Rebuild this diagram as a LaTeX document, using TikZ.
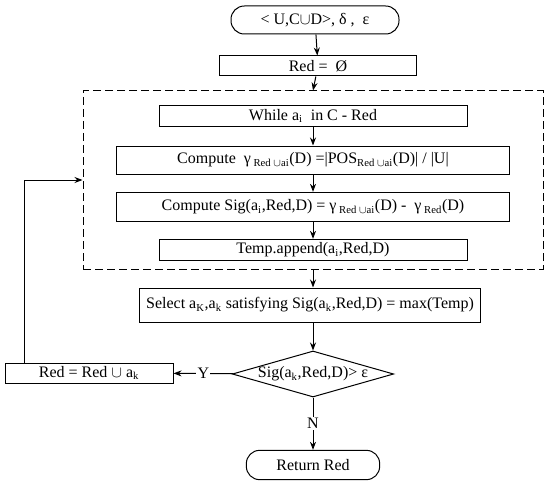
\documentclass[tikz,border=0pt]{standalone}
\usepackage{fontspec}
\setmainfont{Liberation Serif}
\usetikzlibrary{shapes.geometric, arrows.meta, positioning}

\begin{document}
\begin{tikzpicture}[x=0.75pt, y=-0.75pt, line width=0.75pt,
  box/.style={rectangle, draw, minimum height=15pt, inner sep=1pt,
  font=\fontsize{12}{14}\selectfont, align=center},
  term/.style={box, rounded corners=10pt, minimum height=21pt},
  cond/.style={diamond, draw, aspect=3.5, inner sep=0pt, minimum width=121pt,
  minimum height=34.5pt, font=\fontsize{12}{14}\selectfont},
  lbl/.style={font=\fontsize{12}{14}\selectfont, fill=white, inner sep=1pt},
  arr/.style={-{Stealth[length=6pt, width=4.5pt]}}]
  \useasboundingbox (0,0) rectangle (550,485);

  \node[term, minimum width=126pt] (start) at (315,20) {< U,C$\cup$D>, δ ,\ \ ε};
  \node[box, minimum width=148pt] (red0) at (318,66) {Red =\ \ Ø};
  \node[rectangle, draw, dash pattern=on 6pt off 3pt, minimum width=345pt, minimum height=133.5pt] (loopbox) at (313,180) {};
  \node[box, minimum width=231pt, minimum height=16pt] (while) at (313,116) {While a\textsubscript{i}\ \ in C - Red};
  \node[box, minimum width=295pt, minimum height=21pt] (gamma) at (313,160)
    {Compute\ \ γ\textsubscript{ Red $\cup$ai}(D) =|POS\textsubscript{Red $\cup$ai}(D)| / |U|};
  \node[box, minimum width=295pt, minimum height=22pt] (sig) at (313,207)
    {Compute Sig(a\textsubscript{i},Red,D) = γ\textsubscript{ Red $\cup$ai}(D) -\ \ γ\textsubscript{ Red}(D)};
  \node[box, minimum width=231pt, minimum height=16pt] (temp) at (313,250) {Temp.append(a\textsubscript{i},Red,D)};
  \node[box, minimum width=256pt, minimum height=25.5pt] (select) at (310,305)
    {Select a\textsubscript{K},a\textsubscript{k} satisfying Sig(a\textsubscript{k},Red,D) = max(Temp)};
  \node[cond] (check) at (313,374) {Sig(a\textsubscript{k},Red,D)> ε};
  \node[box, minimum width=126pt] (redk) at (89,373) {Red = Red $\cup$\ a\textsubscript{k}};
  \node[term, minimum width=100pt, minimum height=22pt] (ret) at (313,465) {Return Red};

  \draw[arr] (start) -- (red0);
  \draw[arr] (red0) -- (loopbox.north);
  \draw[arr] (while) -- (gamma);
  \draw[arr] (gamma) -- (sig);
  \draw[arr] (sig) -- (temp);
  \draw[arr] (loopbox.south) -- (select.north -| loopbox.south);
  \draw[arr] (select.south -| check.north) -- (check);
  \draw[arr] (check) -- node[lbl] {Y} (redk);
  \draw[arr] (check) -- node[lbl] {N} (ret);
  \draw[arr] ([xshift=15pt]redk.north west) |- (loopbox.west);
\end{tikzpicture}
\end{document}
